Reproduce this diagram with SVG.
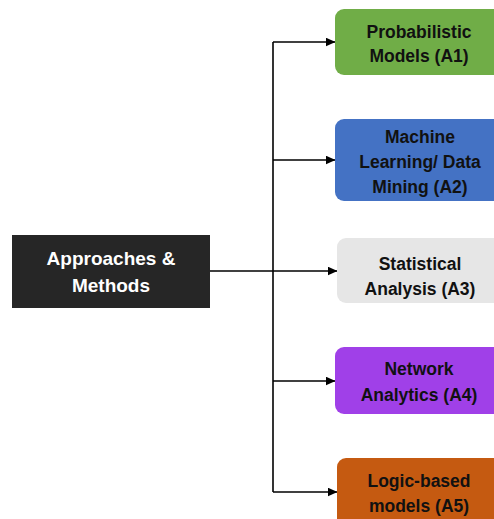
<svg xmlns="http://www.w3.org/2000/svg" width="494" height="519" viewBox="0 0 494 519">
<style>
.t{font-family:"Liberation Sans",Arial,sans-serif;font-weight:bold;font-size:17.5px;text-anchor:middle;fill:#111}
.w{fill:#fff;font-size:19px}
.c{fill:none;stroke:#000;stroke-width:1.6}
</style>
<defs>
<marker id="ah" markerWidth="10" markerHeight="9" refX="9.5" refY="4.5" orient="auto" markerUnits="userSpaceOnUse">
<path d="M0,0 L10,4.5 L0,9 Z" fill="#000"/>
</marker>
</defs>
<rect width="494" height="519" fill="#fff"/>
<g id="connectors">
<path class="c" d="M210,271 H273"/>
<path class="c" d="M273,42 V492"/>
<path class="c" d="M273,42 H335" marker-end="url(#ah)"/>
<path class="c" d="M273,160 H335" marker-end="url(#ah)"/>
<path class="c" d="M273,271 H337" marker-end="url(#ah)"/>
<path class="c" d="M273,381 H335" marker-end="url(#ah)"/>
<path class="c" d="M273,492 H337" marker-end="url(#ah)"/>
</g>
<g id="root">
<rect x="12" y="235" width="198" height="73" fill="#262626"/>
<text class="t w" x="111" y="265">Approaches &amp;</text>
<text class="t w" x="111" y="292">Methods</text>
</g>
<g id="a1">
<rect x="335" y="9" width="168" height="66" rx="9" fill="#70AD47"/>
<text class="t" x="419" y="38">Probabilistic</text>
<text class="t" x="419" y="62">Models (A1)</text>
</g>
<g id="a2">
<rect x="335" y="119" width="168" height="82" rx="9" fill="#4472C4"/>
<text class="t" x="420" y="143">Machine</text>
<text class="t" x="420" y="168">Learning/ Data</text>
<text class="t" x="420" y="193">Mining (A2)</text>
</g>
<g id="a3">
<rect x="337" y="238" width="168" height="65" rx="9" fill="#E6E6E6"/>
<text class="t" x="420" y="270">Statistical</text>
<text class="t" x="420" y="295">Analysis (A3)</text>
</g>
<g id="a4">
<rect x="335" y="347" width="168" height="67" rx="9" fill="#A040E8"/>
<text class="t" x="419" y="375">Network</text>
<text class="t" x="419" y="401">Analytics (A4)</text>
</g>
<g id="a5">
<rect x="337" y="458" width="168" height="70" rx="9" fill="#C55A11"/>
<text class="t" x="419" y="487">Logic-based</text>
<text class="t" x="419" y="512">models (A5)</text>
</g>
</svg>
